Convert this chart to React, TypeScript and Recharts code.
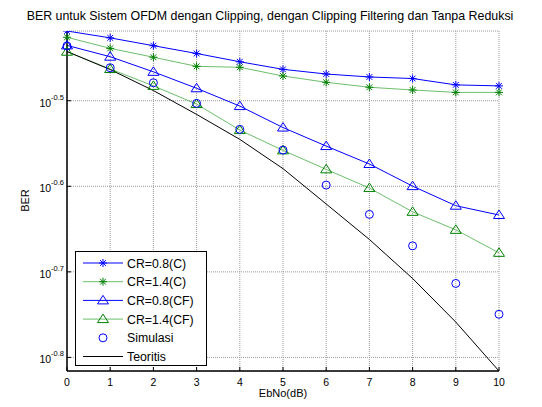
import React from 'react';
import { LineChart, Line, XAxis, YAxis, CartesianGrid } from 'recharts';

// BER (log axis), EbNo 0..10 dB
const ebno = [0, 1, 2, 3, 4, 5, 6, 7, 8, 9, 10];
const cr08C = [0.3815, 0.3745, 0.3667, 0.3591, 0.3512, 0.3441, 0.3398, 0.3371, 0.3357, 0.33, 0.3291];
const cr14C = [0.3751, 0.3641, 0.3555, 0.3469, 0.346, 0.338, 0.3323, 0.3279, 0.3255, 0.3234, 0.3234];
const cr08CF = [0.367, 0.356, 0.3418, 0.327, 0.3117, 0.2942, 0.2799, 0.2667, 0.2513, 0.2384, 0.2325];
const cr14CF = [0.3608, 0.3444, 0.3291, 0.3134, 0.2922, 0.2767, 0.2629, 0.25, 0.2345, 0.2234, 0.21];
const simulasi = [0.3664, 0.3456, 0.3319, 0.314, 0.2928, 0.2769, 0.252, 0.2329, 0.214, 0.1934, 0.178];
const teoritis = [0.361, 0.3439, 0.325, 0.3048, 0.285, 0.2634, 0.2395, 0.2177, 0.196, 0.1743, 0.1528];
const yTicks = [10 ** -0.8, 10 ** -0.7, 10 ** -0.6, 10 ** -0.5];

const data = ebno.map((x, i) => ({
  x,
  c08: cr08C[i],
  c14: cr14C[i],
  cf08: cr08CF[i],
  cf14: cr14CF[i],
  sim: simulasi[i],
  teo: teoritis[i],
}));

const yDomain = [Math.min(...teoritis), Math.max(...cr08C)];

// plot box edges (px)
const PL = 67;
const PR = 499;
const PT = 31;
const PB = 371;

const BLUE = '#0000ff';
const GREEN = '#008000';
const GREEN_LINE = '#6cbf6c';
const FONT = '"Liberation Sans", Arial, sans-serif';

const Star = ({ cx, cy, color }: any) => {
  const r = 4;
  const d = r * 0.72;
  return (
    <g stroke={color} strokeWidth={1}>
      <line x1={cx - r} y1={cy} x2={cx + r} y2={cy} />
      <line x1={cx} y1={cy - r} x2={cx} y2={cy + r} />
      <line x1={cx - d} y1={cy - d} x2={cx + d} y2={cy + d} />
      <line x1={cx - d} y1={cy + d} x2={cx + d} y2={cy - d} />
    </g>
  );
};

const Tri = ({ cx, cy, color }: any) => (
  <polygon
    points={`${cx},${cy - 5} ${cx + 5.5},${cy + 3.5} ${cx - 5.5},${cy + 3.5}`}
    fill="none"
    stroke={color}
    strokeWidth={1}
  />
);

const Circ = ({ cx, cy, color }: any) => (
  <circle cx={cx} cy={cy} r={4} fill="none" stroke={color} strokeWidth={1} />
);

const dotOf = (Comp: any, color: string) => (p: any) =>
  <Comp key={`d-${p.index}`} cx={p.cx} cy={p.cy} color={color} />;

const XTick = (p: any) => (
  <g>
    <line x1={p.x} x2={p.x} y1={PB} y2={PB - 4} stroke="#000" />
    <text x={p.x} y={PB + 15} textAnchor="middle" fontSize={10.5} fontFamily={FONT} fill="#000">
      {p.payload.value}
    </text>
  </g>
);

const XTopTick = (p: any) => (
  <line x1={p.x} x2={p.x} y1={PT} y2={PT + 4} stroke="#000" />
);

const YTick = (p: any) => {
  const exp = Math.log10(p.payload.value).toFixed(1);
  return (
    <g>
      <line x1={PL} x2={PL + 4} y1={p.y} y2={p.y} stroke="#000" />
      <text x={PL - 3} y={p.y + 6} textAnchor="end" fontSize={10.5} fontFamily={FONT} fill="#000">
        10
        <tspan dy={-7} fontSize={7.5}>
          {exp}
        </tspan>
      </text>
    </g>
  );
};

const YRightTick = (p: any) => (
  <line x1={PR} x2={PR - 4} y1={p.y} y2={p.y} stroke="#000" />
);

const legendItems = [
  { name: 'CR=0.8(C)', line: BLUE, marker: Star, mc: BLUE },
  { name: 'CR=1.4(C)', line: GREEN_LINE, marker: Star, mc: GREEN },
  { name: 'CR=0.8(CF)', line: BLUE, marker: Tri, mc: BLUE },
  { name: 'CR=1.4(CF)', line: GREEN_LINE, marker: Tri, mc: GREEN },
  { name: 'Simulasi', line: null, marker: Circ, mc: BLUE },
  { name: 'Teoritis', line: '#000', marker: null, mc: '#000' },
];

const LegendBox = () => (
  <div
    style={{
      position: 'absolute',
      left: 75,
      top: 251,
      width: 130,
      height: 113,
      border: '1px solid #000',
      background: '#fff',
    }}
  >
    <svg width={130} height={113} style={{ display: 'block' }}>
      {legendItems.map((it, i) => {
        const y = 11 + i * 18.7;
        const M = it.marker as any;
        return (
          <g key={it.name}>
            {it.line && <line x1={7} x2={47} y1={y} y2={y} stroke={it.line} strokeWidth={1} />}
            {M && <M cx={27} cy={y} color={it.mc} />}
            <text x={51} y={y + 4.5} fontSize={12.3} fontFamily={FONT} fill="#000">
              {it.name}
            </text>
          </g>
        );
      })}
    </svg>
  </div>
);

export default function App() {
  return (
    <div
      style={{
        position: 'fixed',
        left: 0,
        top: 0,
        width: 542,
        height: 407,
        background: '#fff',
        fontFamily: FONT,
      }}
    >
      <div
        style={{
          position: 'absolute',
          left: 0,
          top: 9,
          width: 540,
          textAlign: 'center',
          fontSize: 12.4,
          lineHeight: '14px',
          color: '#000',
          whiteSpace: 'nowrap',
        }}
      >
        BER untuk Sistem OFDM dengan Clipping, dengan Clipping Filtering dan Tanpa Reduksi
      </div>
      <div
        style={{
          position: 'absolute',
          left: 233,
          top: 387,
          width: 100,
          textAlign: 'center',
          fontSize: 11,
          lineHeight: '13px',
        }}
      >
        EbNo(dB)
      </div>
      <div
        style={{
          position: 'absolute',
          left: 5,
          top: 194,
          width: 40,
          textAlign: 'center',
          fontSize: 11,
          lineHeight: '13px',
          transform: 'rotate(-90deg)',
        }}
      >
        BER
      </div>
      <LineChart
        width={542}
        height={407}
        data={data}
        margin={{ top: PT, right: 542 - PR, bottom: 6, left: PL - 60 }}
      >
        <CartesianGrid stroke="#9a9a9a" strokeDasharray="1 1" />
        <XAxis
          xAxisId={0}
          dataKey="x"
          type="number"
          domain={[0, 10]}
          ticks={ebno}
          height={30}
          axisLine={{ stroke: '#000', strokeWidth: 1.5 }}
          tickLine={false}
          tick={<XTick />}
          interval={0}
        />
        <XAxis
          xAxisId="top"
          orientation="top"
          dataKey="x"
          type="number"
          domain={[0, 10]}
          ticks={ebno}
          height={0}
          axisLine={{ stroke: '#000', strokeWidth: 1 }}
          tickLine={false}
          tick={<XTopTick />}
          interval={0}
        />
        <YAxis
          yAxisId={0}
          scale="log"
          type="number"
          domain={yDomain}
          allowDataOverflow
          ticks={yTicks}
          width={60}
          axisLine={{ stroke: '#000', strokeWidth: 1.5 }}
          tickLine={false}
          tick={<YTick />}
          interval={0}
        />
        <YAxis
          yAxisId="right"
          orientation="right"
          scale="log"
          type="number"
          domain={yDomain}
          allowDataOverflow
          ticks={yTicks}
          width={0}
          axisLine={{ stroke: '#000', strokeWidth: 1 }}
          tickLine={false}
          tick={<YRightTick />}
          interval={0}
        />
        <Line dataKey="c08" stroke={BLUE} strokeWidth={1} dot={dotOf(Star, BLUE)} isAnimationActive={false} />
        <Line dataKey="c14" stroke={GREEN_LINE} strokeWidth={1} dot={dotOf(Star, GREEN)} isAnimationActive={false} />
        <Line dataKey="cf08" stroke={BLUE} strokeWidth={1} dot={dotOf(Tri, BLUE)} isAnimationActive={false} />
        <Line dataKey="cf14" stroke={GREEN_LINE} strokeWidth={1} dot={dotOf(Tri, GREEN)} isAnimationActive={false} />
        <Line dataKey="sim" stroke="none" strokeWidth={0} dot={dotOf(Circ, BLUE)} isAnimationActive={false} />
        <Line dataKey="teo" stroke="#000" strokeWidth={1} dot={false} isAnimationActive={false} />
      </LineChart>
      <LegendBox />
    </div>
  );
}
